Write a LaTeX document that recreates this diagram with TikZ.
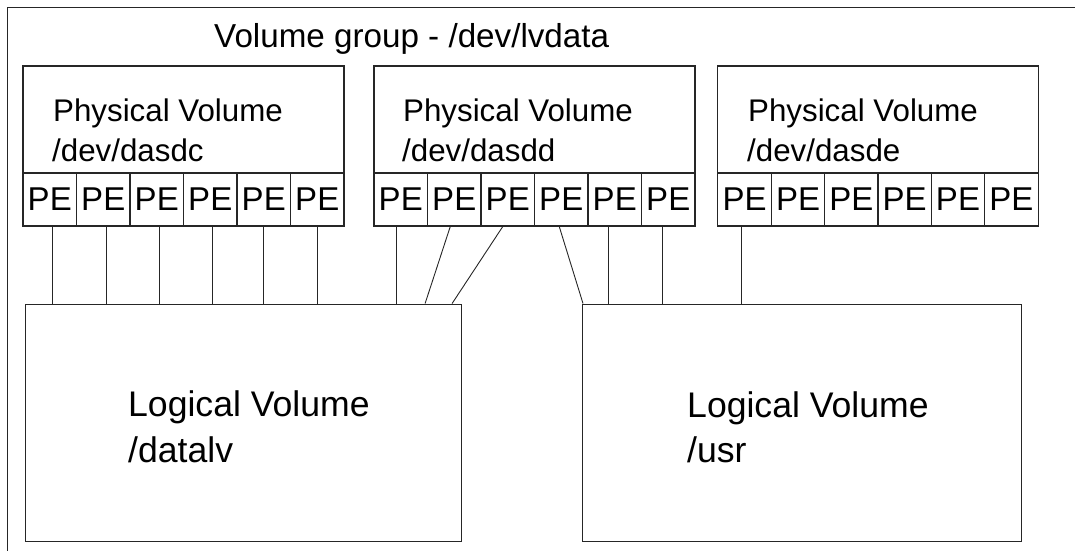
\documentclass[tikz,border=0pt]{standalone}
\usepackage{fontspec}
\setmainfont{Liberation Sans}
\begin{document}
\begin{tikzpicture}[x=1pt,y=-1pt,
  boxline/.style={draw=black!85, line width=1.1pt},
  pvbox/.style={boxline, rectangle, minimum width=321pt, minimum height=160pt, inner sep=0pt},
  pecell/.style={boxline, rectangle, minimum width=53.5pt, minimum height=53pt, inner sep=0pt, font=\fontsize{33}{33}\selectfont},
  lvbox/.style={boxline, rectangle, inner sep=0pt},
  lbl/.style={anchor=base west, inner sep=0pt, font=\fontsize{31.3}{31.3}\selectfont},
  lvlbl/.style={anchor=base west, inner sep=0pt, font=\fontsize{35.6}{35.6}\selectfont},
  conn/.style={draw=black!85, line width=0.9pt}]
\clip (0,0) rectangle (1075,550);
\useasboundingbox (0,0) rectangle (1075,550);
% outer frame (volume group)
\node[boxline, rectangle, inner sep=0pt, minimum width=1090pt, minimum height=560pt, anchor=north west] (vg) at (7,7) {};
\node[anchor=base west, inner sep=0pt, font=\fontsize{33.2}{33.2}\selectfont] (vglbl) at (214,47) {Volume group - /dev/lvdata};
% physical volumes
\node[pvbox] (pv1) at (183.5,146) {};
\node[pvbox] (pv2) at (534.5,146) {};
\node[pvbox] (pv3) at (878,146) {};
\node[lbl] (pv1a) at (53,121) {Physical Volume};
\node[lbl] (pv1b) at (52,161) {/dev/dasdc};
\node[lbl] (pv2a) at (403,121) {Physical Volume};
\node[lbl] (pv2b) at (402,161) {/dev/dasdd};
\node[lbl] (pv3a) at (748,121) {Physical Volume};
\node[lbl] (pv3b) at (747,161) {/dev/dasde};
% physical extents
\foreach \i in {1,...,6} {
  \node[pecell] (a\i) at ({23+26.75+53.5*(\i-1)},199.5) {PE};
  \node[pecell] (b\i) at ({374+26.75+53.5*(\i-1)},199.5) {PE};
  \node[pecell] (c\i) at ({718+26.67+53.33*(\i-1)},199.5) {PE};
}
% logical volumes
\node[lvbox, minimum width=436pt, minimum height=237pt, anchor=north west] (lv1) at (25,303.5) {};
\node[lvbox, minimum width=439pt, minimum height=237pt, anchor=north west] (lv2) at (582,303.5) {};
\node[lvlbl] (lv1a) at (128,416) {Logical Volume};
\node[lvlbl] (lv1b) at (128,462) {/datalv};
\node[lvlbl] (lv2a) at (687,417) {Logical Volume};
\node[lvlbl] (lv2b) at (687,462) {/usr};
% connectors to /datalv
\draw[conn] ([xshift=3pt]a1.south) -- ([xshift=3pt]a1.south |- lv1.north);
\draw[conn] ([xshift=3pt]a2.south) -- ([xshift=3pt]a2.south |- lv1.north);
\draw[conn] ([xshift=3pt]a3.south) -- ([xshift=3pt]a3.south |- lv1.north);
\draw[conn] ([xshift=2pt]a4.south) -- ([xshift=2pt]a4.south |- lv1.north);
\draw[conn] (a5.south) -- (a5.south |- lv1.north);
\draw[conn] (a6.south) -- (a6.south |- lv1.north);
\draw[conn] ([xshift=-4pt]b1.south) -- ([xshift=-4pt]b1.south |- lv1.north);
\coordinate (lv1p2) at ([xshift=-37pt]lv1.north east);
\coordinate (lv1p3) at ([xshift=-10pt]lv1.north east);
\draw[conn] ([xshift=-4pt]b2.south) -- (lv1p2);
\draw[conn] ([xshift=-5pt]b3.south) -- (lv1p3);
% connectors to /usr
\draw[conn] ([xshift=-2pt]b4.south) -- ([xshift=1pt]lv2.north west);
\draw[conn] ([xshift=-6pt]b5.south) -- ([xshift=-6pt]b5.south |- lv2.north);
\draw[conn] ([xshift=-6pt]b6.south) -- ([xshift=-6pt]b6.south |- lv2.north);
\draw[conn] ([xshift=-3.5pt]c1.south) -- ([xshift=-3.5pt]c1.south |- lv2.north);
\end{tikzpicture}
\end{document}
